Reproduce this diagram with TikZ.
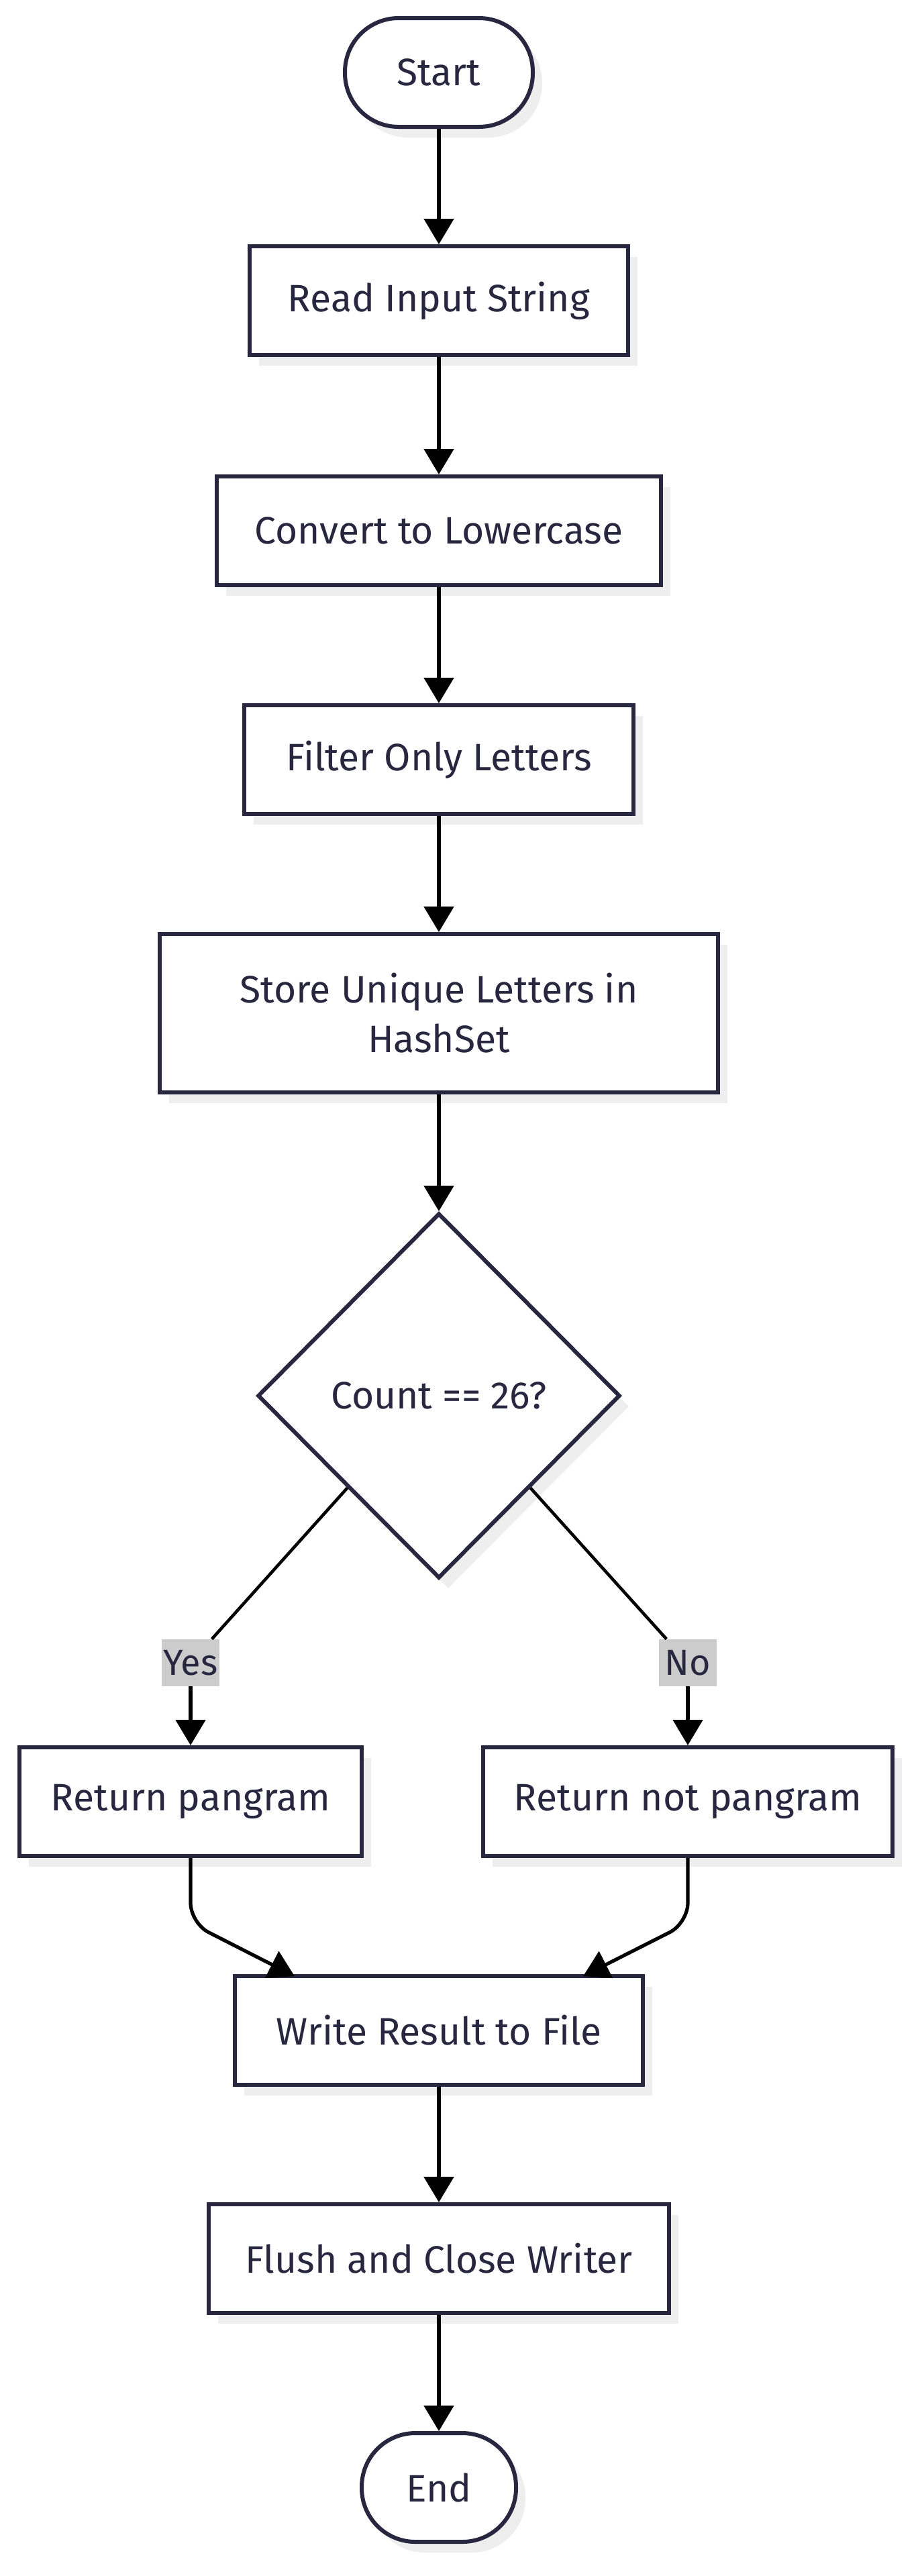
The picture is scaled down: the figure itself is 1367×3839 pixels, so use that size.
\documentclass[tikz,border=0pt]{standalone}
\usepackage{fontspec}
\setmainfont{Fira Sans}
\usepackage{xcolor}
\usetikzlibrary{shapes.geometric,arrows.meta,shadows}
\definecolor{ink}{HTML}{28273F}
\definecolor{shade}{HTML}{EEEEEE}
\definecolor{tagfill}{HTML}{CCCCCC}

\begin{document}
\begin{tikzpicture}[x=0.5pt,y=-0.5pt,
	box/.style={draw=ink,line width=3pt,fill=white,text=ink,minimum height=81pt,inner sep=0pt,align=center,font=\fontsize{28.5}{37}\selectfont,drop shadow={shadow xshift=7pt,shadow yshift=-8pt,fill=shade,opacity=1}},
	term/.style={box,rounded corners=40pt},
	choice/.style={box,diamond,minimum width=270pt,minimum height=272pt},
	tag/.style={fill=tagfill,text=ink,inner sep=0pt,minimum width=43pt,minimum height=35pt,font=\fontsize{27}{30}\selectfont},
	arr/.style={-{Triangle[width=22pt,length=19pt]},line width=2.6pt},
	link/.style={line width=2.3pt}]
	\fill[white] (0,0) rectangle (1367,3839);
	\node[term,minimum width=140pt] at (654,108) (1) {Start};
	\node[box,minimum width=282pt] at (654,448) (2) {Read Input String};
	\node[box,minimum width=331pt] at (654,791) (3) {Convert to Lowercase};
	\node[box,minimum width=290pt] at (654,1132) (4) {Filter Only Letters};
	\node[box,minimum width=416pt,minimum height=118pt] at (654,1510) (5) {Store Unique Letters in\\HashSet};
	\node[choice] at (654,2080) (6) {Count == 26?};
	\node[tag] at (284,2478) (y) {Yes};
	\node[tag] at (1025,2478) (n) {No};
	\node[box,minimum width=255pt] at (284,2685) (7) {Return pangram};
	\node[box,minimum width=305pt] at (1025,2685) (8) {Return not pangram};
	\node[box,minimum width=304pt] at (654,3026) (9) {Write Result to File};
	\node[box,minimum width=343pt] at (654,3366) (10) {Flush and Close Writer};
	\node[term,minimum width=115pt] at (654,3707) (11) {End};
	\coordinate (a) at (284,2866);
	\coordinate (b) at (1025,2866);
	\coordinate (c) at (439,2945);
	\coordinate (d) at (869,2945);
	\draw[arr] (1) -- (2);
	\draw[arr] (2) -- (3);
	\draw[arr] (3) -- (4);
	\draw[arr] (4) -- (5);
	\draw[arr] (5) -- (6);
	\draw[link] (6.south west) -- (y);
	\draw[arr] (y) -- (7);
	\draw[link] (6.south east) -- (n);
	\draw[arr] (n) -- (8);
	\draw[arr,rounded corners=15pt] (7) -- (a) -- (c);
	\draw[arr,rounded corners=15pt] (8) -- (b) -- (d);
	\draw[arr] (9) -- (10);
	\draw[arr] (10) -- (11);
\end{tikzpicture}
\end{document}
